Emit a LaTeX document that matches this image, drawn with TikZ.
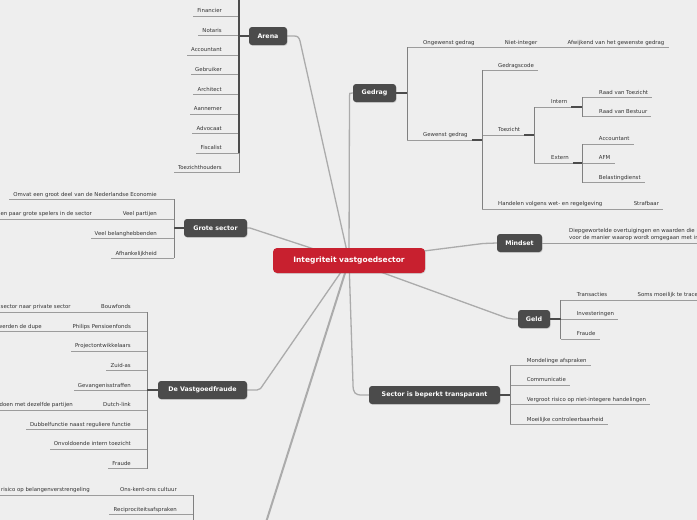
\documentclass[tikz,border=0pt]{standalone}
\usepackage{fontspec}
\setmainfont{DejaVu Sans}
\usetikzlibrary{backgrounds,shadows,calc}
\definecolor{bgc}{HTML}{EEEEEE}
\definecolor{redc}{HTML}{C8202F}
\definecolor{darkn}{HTML}{4B4B4B}
\definecolor{txtc}{HTML}{333333}
\definecolor{ulc}{HTML}{9C9C9C}
\definecolor{spc}{HTML}{808080}
\definecolor{connc}{HTML}{ABABAB}
\tikzset{
  leaf/.style={inner sep=0pt, font=\fontsize{5.4}{6.4}\selectfont, text=txtc},
  uline/.style={draw=ulc, line width=0.8pt},
  spine/.style={draw=spc, line width=1pt},
  tonode/.style={draw=darkn, line width=1.3pt},
  branch/.style={fill=darkn, text=white, rounded corners=3pt,
    font=\fontsize{6.3}{7}\selectfont\bfseries, minimum height=18pt,
    inner xsep=3pt, inner ysep=0pt,
    drop shadow={opacity=0.25, shadow xshift=0.6pt, shadow yshift=-0.8pt}},
  central/.style={fill=redc, text=white, rounded corners=4pt,
    font=\fontsize{7.5}{9}\selectfont\bfseries, minimum height=25pt,
    minimum width=152pt, inner xsep=3pt,
    drop shadow={opacity=0.25, shadow xshift=0.6pt, shadow yshift=-0.8pt}},
  mainconn/.style={draw=connc, line width=1.3pt},
}
% left leaf: name, start coordinate, x offset of text end, text
\newcommand\LL[4]{%
  \node[leaf, anchor=base east] (#1) at ($(#2)+(#3,-3.3)$) {#4};
  \draw[uline] (#2) -- ([xshift=-4pt]#1.west |- #2) coordinate (#1e);
}
% right leaf
\newcommand\RL[4]{%
  \node[leaf, anchor=base west] (#1) at ($(#2)+(#3,-3.3)$) {#4};
  \draw[uline] (#2) -- ([xshift=4pt]#1.east |- #2) coordinate (#1e);
}
\begin{document}
\begin{tikzpicture}[x=1pt,y=-1pt]
\useasboundingbox (0,0) rectangle (697,520);
\clip (0,0) rectangle (697,520);
\begin{pgfonlayer}{background}
\fill[bgc] (-5,-5) rectangle (702,525);
\end{pgfonlayer}

% central and branch nodes
\node[central] (c) at (349,260.5) {Integriteit vastgoedsector};
\node[branch, minimum width=38pt] (arena) at (268,36) {Arena};
\node[branch, minimum width=63pt] (grote) at (215.5,228) {Grote sector};
\node[branch, minimum width=89pt] (vf) at (202.5,390) {De Vastgoedfraude};
\node[branch, minimum width=43pt] (gedrag) at (374.5,93) {Gedrag};
\node[branch, minimum width=45pt] (mindset) at (519.5,243) {Mindset};
\node[branch, minimum width=32pt] (geld) at (534,319) {Geld};
\node[branch, minimum width=131pt] (sector) at (434.5,395) {Sector is beperkt transparant};
\coordinate (offnode) at (262,535);

% ---------- Arena ----------
\coordinate (atop) at (239,-5);
\coordinate (a1s) at (239,16);   \LL{a1}{a1s}{-17}{Financier}
\coordinate (a2s) at (239,35.6); \LL{a2}{a2s}{-17}{Notaris}
\coordinate (a3s) at (239,55.2); \LL{a3}{a3s}{-17}{Accountant}
\coordinate (a4s) at (239,74.8); \LL{a4}{a4s}{-17}{Gebruiker}
\coordinate (a5s) at (239,94.4); \LL{a5}{a5s}{-17}{Architect}
\coordinate (a6s) at (239,114);  \LL{a6}{a6s}{-17}{Aannemer}
\coordinate (a7s) at (239,133.6);\LL{a7}{a7s}{-17}{Advocaat}
\coordinate (a8s) at (239,153.2);\LL{a8}{a8s}{-17}{Fiscalist}
\coordinate (a9s) at (239,172.8);\LL{a9}{a9s}{-17}{Toezichthouders}
\draw[draw=darkn, line width=1.2pt] (atop) -- (a8s);
\draw[spine] (a8s) -- (a9s);
\draw[tonode] (arena.west) -- (arena.west -| a2s);

% ---------- Grote sector ----------
\coordinate (g1s) at (174,199.3); \LL{g1}{g1s}{-17}{Omvat een groot deel van de Nederlandse Economie}
\coordinate (g2s) at (174,219);   \LL{g2}{g2s}{-17}{Veel partijen}
\LL{g2b}{g2e}{-26.5}{Een paar grote spelers in de sector}
\coordinate (g3s) at (174,238.7); \LL{g3}{g3s}{-17}{Veel belanghebbenden}
\coordinate (g4s) at (174,258.3); \LL{g4}{g4s}{-17}{Afhankelijkheid}
\draw[spine] (g1s) -- (g4s);
\draw[tonode] (grote.west) -- (grote.west -| g1s);

% ---------- De Vastgoedfraude ----------
\coordinate (v1s) at (147,312);   \LL{v1}{v1s}{-16}{Bouwfonds}
\LL{v1b}{v1e}{-26}{Van publieke sector naar private sector}
\coordinate (v2s) at (147,331.6); \LL{v2}{v2s}{-16}{Philips Pensioenfonds}
\LL{v2b}{v2e}{-26.5}{Pensioengerechtigden werden de dupe}
\coordinate (v3s) at (147,351.2); \LL{v3}{v3s}{-16}{Projectontwikkelaars}
\coordinate (v4s) at (147,370.8); \LL{v4}{v4s}{-16}{Zuid-as}
\coordinate (v5s) at (147,390.4); \LL{v5}{v5s}{-16}{Gevangenisstraffen}
\coordinate (v6s) at (147,410);   \LL{v6}{v6s}{-16}{Dutch-link}
\LL{v6b}{v6e}{-26}{Zaken doen met dezelfde partijen}
\coordinate (v7s) at (147,429.6); \LL{v7}{v7s}{-16}{Dubbelfunctie naast reguliere functie}
\coordinate (v8s) at (147,449.2); \LL{v8}{v8s}{-16}{Onvoldoende intern toezicht}
\coordinate (v9s) at (147,468.8); \LL{v9}{v9s}{-16}{Fraude}
\draw[spine] (v1s) -- (v9s);
\draw[tonode] (vf.west) -- (vf.west -| v1s);

% ---------- bottom branch (off frame) ----------
\coordinate (o1s) at (193,495);   \LL{o1}{o1s}{-16}{Ons-kent-ons cultuur}
\LL{o1b}{o1e}{-26}{Vergroot risico op belangenverstrengeling}
\coordinate (o2s) at (193,514.6); \LL{o2}{o2s}{-16}{Reciprociteitsafspraken}
\coordinate (obot) at (193,530);
\draw[spine] (o1s) -- (obot);

% ---------- Gedrag ----------
\coordinate (r1s) at (407,47.3); \RL{r1}{r1s}{16}{Ongewenst gedrag}
\RL{r1a}{r1e}{26}{Niet-integer}
\RL{r1b}{r1ae}{26}{Afwijkend van het gewenste gedrag}
\coordinate (r2s) at (407,140);  \RL{r2}{r2s}{16}{Gewenst gedrag}
\draw[spine] (r1s) -- (r2s);
\draw[tonode] (gedrag.east) -- (gedrag.east -| r1s);
\coordinate (r2k) at (482,140);
\draw[tonode] (r2e) -- (r2k);
\coordinate (t1s) at (482,70.3); \RL{t1}{t1s}{16}{Gedragscode}
\coordinate (t2s) at (482,135);  \RL{t2}{t2s}{16}{Toezicht}
\coordinate (t3s) at (482,209);  \RL{t3}{t3s}{16}{Handelen volgens wet- en regelgeving}
\RL{t3a}{t3e}{27}{Strafbaar}
\draw[spine] (t1s) -- (t3s);
\coordinate (t2k) at (534,135);
\draw[tonode] (t2e) -- (t2k);
\coordinate (is) at (534,107);   \RL{in}{is}{17}{Intern}
\coordinate (es) at (534,163);   \RL{ex}{es}{17}{Extern}
\draw[spine] (is) -- (es);
\coordinate (ink) at (582,107);
\coordinate (exk) at (582.7,163);
\draw[tonode] (ine) -- (ink);
\draw[tonode] (exe) -- (exk);
\coordinate (rvts) at (582,97.3);  \RL{rvt}{rvts}{17}{Raad van Toezicht}
\coordinate (rvbs) at (582,116.7); \RL{rvb}{rvbs}{17}{Raad van Bestuur}
\draw[spine] (rvts) -- (rvbs);
\coordinate (accs) at (582.7,144);   \RL{acc}{accs}{16}{Accountant}
\coordinate (afms) at (582.7,163);   \RL{afm}{afms}{16}{AFM}
\coordinate (bels) at (582.7,182.7); \RL{bel}{bels}{16}{Belastingdienst}
\draw[spine] (accs) -- (bels);

% ---------- Mindset ----------
\node[leaf, anchor=south west, align=left, font=\fontsize{5.4}{7.3}\selectfont]
  (md) at (569,241.2) {Diepgewortelde overtuigingen en waarden die bepalend zijn\\voor de manier waarop wordt omgegaan met integriteit};
\coordinate (mde) at (720,243.3);
\draw[uline] (mindset.east) -- (mindset.east |- mde) -- (mde);

% ---------- Geld ----------
\coordinate (gl1s) at (560.7,300); \RL{gl1}{gl1s}{16}{Transacties}
\RL{gl1a}{gl1e}{26}{Soms moeilijk te traceren}
\coordinate (gl2s) at (560.7,319); \RL{gl2}{gl2s}{16}{Investeringen}
\coordinate (gl3s) at (560.7,339); \RL{gl3}{gl3s}{16}{Fraude}
\draw[spine] (gl1s) -- (gl3s);
\draw[tonode] (geld.east) -- (geld.east -| gl1s);

% ---------- Sector is beperkt transparant ----------
\coordinate (s1s) at (510.3,365.7); \RL{s1}{s1s}{16.4}{Mondelinge afspraken}
\coordinate (s2s) at (510.3,385.2); \RL{s2}{s2s}{16.4}{Communicatie}
\coordinate (s3s) at (510.3,404.8); \RL{s3}{s3s}{16.4}{Vergroot risico op niet-integere handelingen}
\coordinate (s4s) at (510.3,424.3); \RL{s4}{s4s}{16.4}{Moeilijke controleerbaarheid}
\draw[spine] (s1s) -- (s4s);
\draw[tonode] (sector.east) -- (sector.east -| s1s);

% ---------- main connectors ----------
\begin{pgfonlayer}{background}
\draw[mainconn] (arena.east) -- (294,36) .. controls (298,36) and (299,37.5) .. (300,41) -- (c.center);
\draw[mainconn] (gedrag.west) -- (352.5,93) .. controls (349.5,93) .. (349.5,96) -- (c.center);
\draw[mainconn] (grote.east) -- (250,228) -- (c.center);
\draw[mainconn] (vf.east) -- (257,390) .. controls (260,390) and (261,388) .. (263,385) -- (c.center);
\draw[mainconn, line width=2pt] (c.center) -- (offnode);
\draw[mainconn] (c.center) -- (353,384) .. controls (353,393) and (355,395) .. (362,395) -- (sector.west);
\draw[mainconn] (c.center) -- (483,243.5) -- (mindset.west);
\draw[mainconn] (c.center) -- (507,318) .. controls (510,319) .. (513,319) -- (geld.west);
\end{pgfonlayer}
\end{tikzpicture}
\end{document}
